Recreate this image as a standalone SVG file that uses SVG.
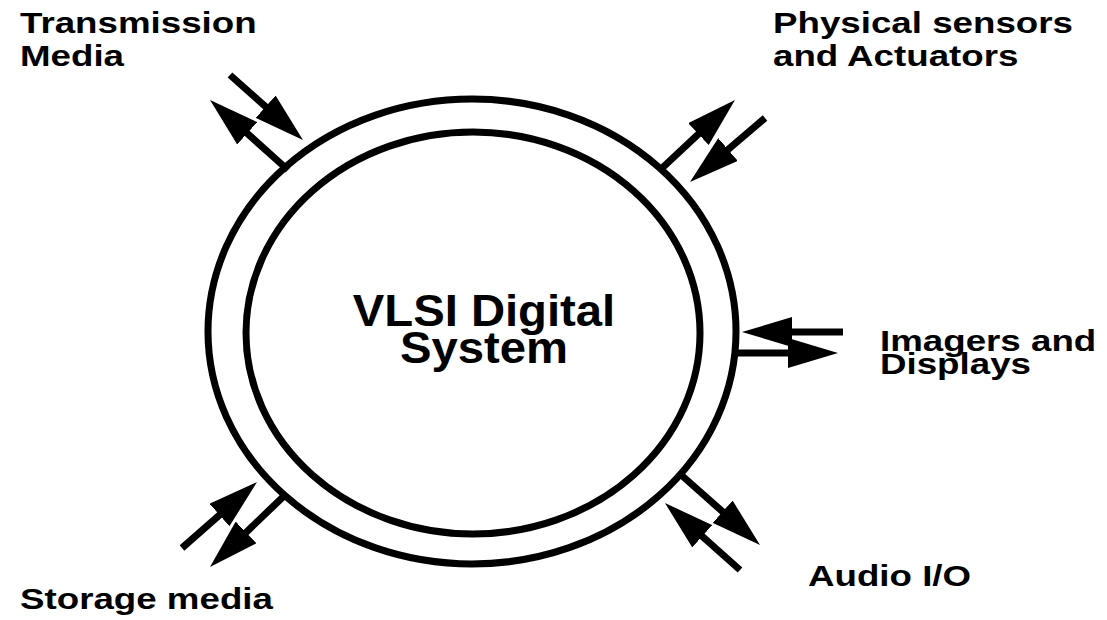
<svg xmlns="http://www.w3.org/2000/svg" width="1107" height="620" viewBox="0 0 1107 620">
<style>
.ring{fill:none;stroke:#000;stroke-width:7}
.arr{stroke:#000;stroke-width:7;fill:none;marker-end:url(#head)}
.lbl{font-family:"Liberation Sans",Arial,sans-serif;font-weight:bold;font-size:30px;fill:#000}
.main{font-family:"Liberation Sans",Arial,sans-serif;font-weight:bold;font-size:45px;fill:#000;text-anchor:middle}
</style>
<defs>
<marker id="head" markerUnits="userSpaceOnUse" viewBox="0 0 50 30" markerWidth="50" markerHeight="30" refX="12" refY="15" orient="auto">
<path d="M0,0 L50,15 L0,30 z" fill="#000"/>
</marker>
</defs>
<rect width="1107" height="620" fill="#fff"/>
<g id="system">
<ellipse class="ring" cx="472" cy="331.5" rx="264" ry="232.5"/>
<ellipse class="ring" cx="473" cy="333" rx="227" ry="201"/>
<text class="main" transform="translate(484,0) scale(1.05,1)"><tspan x="0" y="326">VLSI Digital</tspan><tspan x="0" y="363">System</tspan></text>
</g>
<g id="connectors">
<line class="arr" x1="230" y1="75" x2="274.6" y2="114.7"/>
<line class="arr" x1="288" y1="170" x2="238.3" y2="125.3"/>
<line class="arr" x1="660" y1="170" x2="707.2" y2="125.9"/>
<line class="arr" x1="765" y1="118" x2="718.9" y2="157.3"/>
<line class="arr" x1="843" y1="332" x2="780" y2="332"/>
<line class="arr" x1="736" y1="353" x2="800" y2="353"/>
<line class="arr" x1="182" y1="548" x2="228.5" y2="507.1"/>
<line class="arr" x1="285" y1="495" x2="237.4" y2="540.7"/>
<line class="arr" x1="679" y1="473" x2="731.6" y2="519.7"/>
<line class="arr" x1="740" y1="570" x2="693.3" y2="528.3"/>
</g>
<g id="transmission">
<text class="lbl" transform="translate(20,0) scale(1.224,1)"><tspan x="0" y="33">Transmission</tspan><tspan x="0" y="66">Media</tspan></text>
</g>
<g id="physical">
<text class="lbl" transform="translate(773,0) scale(1.224,1)"><tspan x="0" y="33">Physical sensors</tspan><tspan x="0" y="66">and Actuators</tspan></text>
</g>
<g id="imagers">
<text class="lbl" transform="translate(880,0) scale(1.224,1)"><tspan x="0" y="351">Imagers and</tspan><tspan x="0" y="374">Displays</tspan></text>
</g>
<g id="storage">
<text class="lbl" transform="translate(20,0) scale(1.224,1)"><tspan x="0" y="609">Storage media</tspan></text>
</g>
<g id="audio">
<text class="lbl" transform="translate(808,0) scale(1.224,1)"><tspan x="0" y="586">Audio I/O</tspan></text>
</g>
</svg>
